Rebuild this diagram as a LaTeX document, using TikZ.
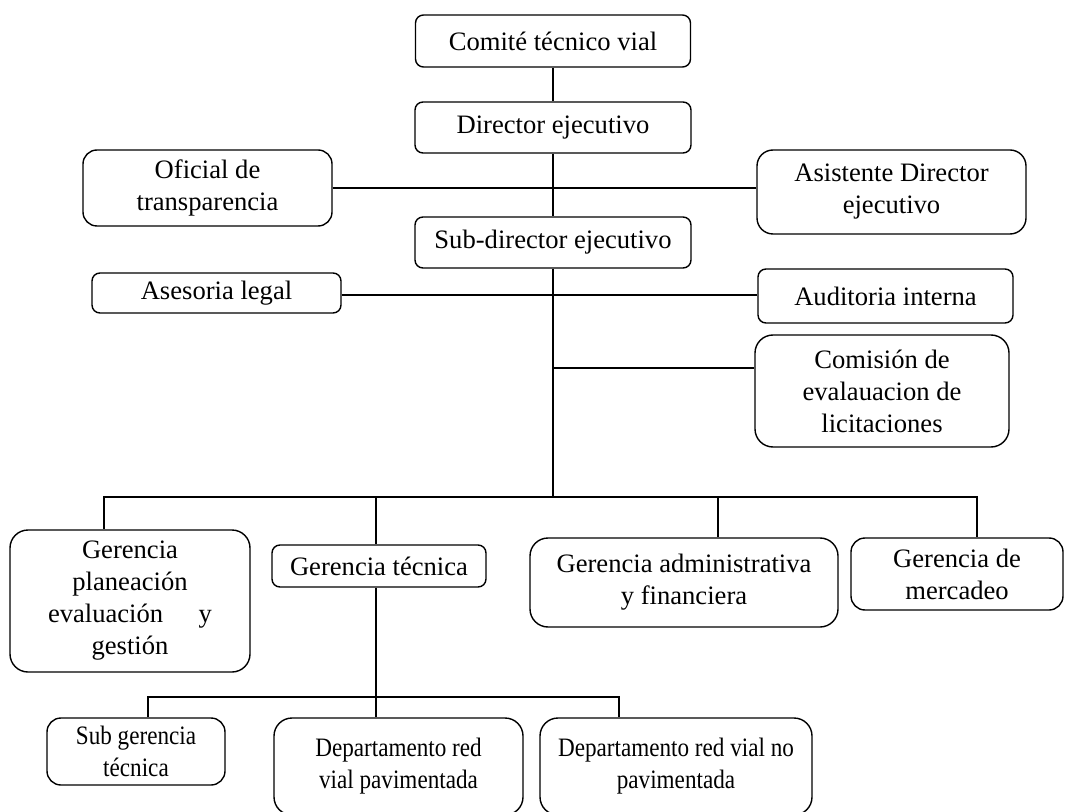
\documentclass[tikz,border=0pt]{standalone}
\usepackage{fontspec}
\setmainfont{Liberation Serif}
\newfontfamily\estrecha[FakeStretch=0.87]{Liberation Serif}
\tikzset{
  caja/.style={draw, line width=0.7pt, rounded corners=4pt, align=center, inner sep=2pt,
    font=\fontsize{13.3}{16}\selectfont},
  cajagrande/.style={caja, rounded corners=9pt},
  cajabaja/.style={font=\estrecha\fontsize{13.3}{16}\selectfont},
  linea/.style={line width=0.7pt}
}
\begin{document}
\begin{tikzpicture}[x=0.5pt, y=-0.5pt]
    \useasboundingbox (0,0) rectangle (1075,812);
    \clip (0,0) rectangle (1075,812);

    \node[caja, minimum width=137.5pt, minimum height=26pt] (comite) at (553,41) {Comité técnico vial};
    \node[caja, minimum width=138pt, minimum height=25.5pt] (director) at (553,127.5) {Director ejecutivo};
    \node[caja, minimum width=138pt, minimum height=25.5pt] (subdir) at (553,242.5) {Sub-director ejecutivo};
    \node[caja, rounded corners=7pt, minimum width=124.5pt, minimum height=38pt] (oficial) at (207.5,188) {Oficial de\\transparencia};
    \node[caja, rounded corners=8pt, minimum width=134.5pt, minimum height=42pt] (asistente) at (891.5,192) {Asistente Director\\ejecutivo};
    \node[caja, minimum width=124.5pt, minimum height=20pt] (asesoria) at (216.5,293) {Asesoria legal};
    \node[caja, minimum width=127.5pt, minimum height=27pt] (auditoria) at (885.5,296) {Auditoria interna};
    \node[cajagrande, minimum width=127pt, minimum height=56pt] (comision) at (882,391) {Comisión de\\evalauacion de\\licitaciones};

    \node[cajagrande, minimum width=120pt, minimum height=71pt] (planea) at (130,601)
        {Gerencia\\planeación\\\makebox[82pt]{evaluación\hfill y}\\gestión};
    \node[caja, minimum width=107pt, minimum height=21pt] (tecnica) at (379,566) {Gerencia técnica};
    \node[cajagrande, minimum width=154pt, minimum height=44.5pt] (admin) at (684,582.5) {Gerencia administrativa\\y financiera};
    \node[caja, rounded corners=7pt, minimum width=106pt, minimum height=36pt] (mercadeo) at (957,574) {Gerencia de\\mercadeo};

    \node[caja, cajabaja, rounded corners=7pt, minimum width=89pt, minimum height=33.5pt] (subger) at (136,751.5) {Sub gerencia\\técnica};
    \node[cajagrande, cajabaja, minimum width=124.5pt, minimum height=48.5pt] (deppav) at (398.5,766.5) {Departamento red\\vial pavimentada};
    \node[cajagrande, cajabaja, minimum width=136pt, minimum height=48.5pt] (depnopav) at (676,766.5) {Departamento red vial no\\pavimentada};

    \coordinate (bus) at (553,497);
    \coordinate (bus2) at (376,697);

    \draw[linea] (comite) -- (director);
    \draw[linea] (director) -- (subdir);
    \draw[linea] (oficial.east) -- (oficial.east -| asistente.west);
    \draw[linea] (asesoria.east |- 0,295) -- (auditoria.west |- 0,295);
    \draw[linea] (subdir.south) -- (bus);
    \draw[linea] (bus |- 0,368) -- (comision.west |- 0,368);

    \draw[linea] (bus) -| ([xshift=-13pt]planea.north);
    \draw[linea] (bus) -| ([xshift=-1.5pt]tecnica.north);
    \draw[linea] (bus) -| ([xshift=17pt]admin.north);
    \draw[linea] (bus) -| ([xshift=10pt]mercadeo.north);

    \draw[linea] ([xshift=-1.5pt]tecnica.south) -- (bus2);
    \draw[linea] (bus2) -| ([xshift=6pt]subger.north);
    \draw[linea] (bus2) -- (bus2 |- deppav.north);
    \draw[linea] (bus2) -| ([xshift=-28.5pt]depnopav.north);
\end{tikzpicture}
\end{document}
